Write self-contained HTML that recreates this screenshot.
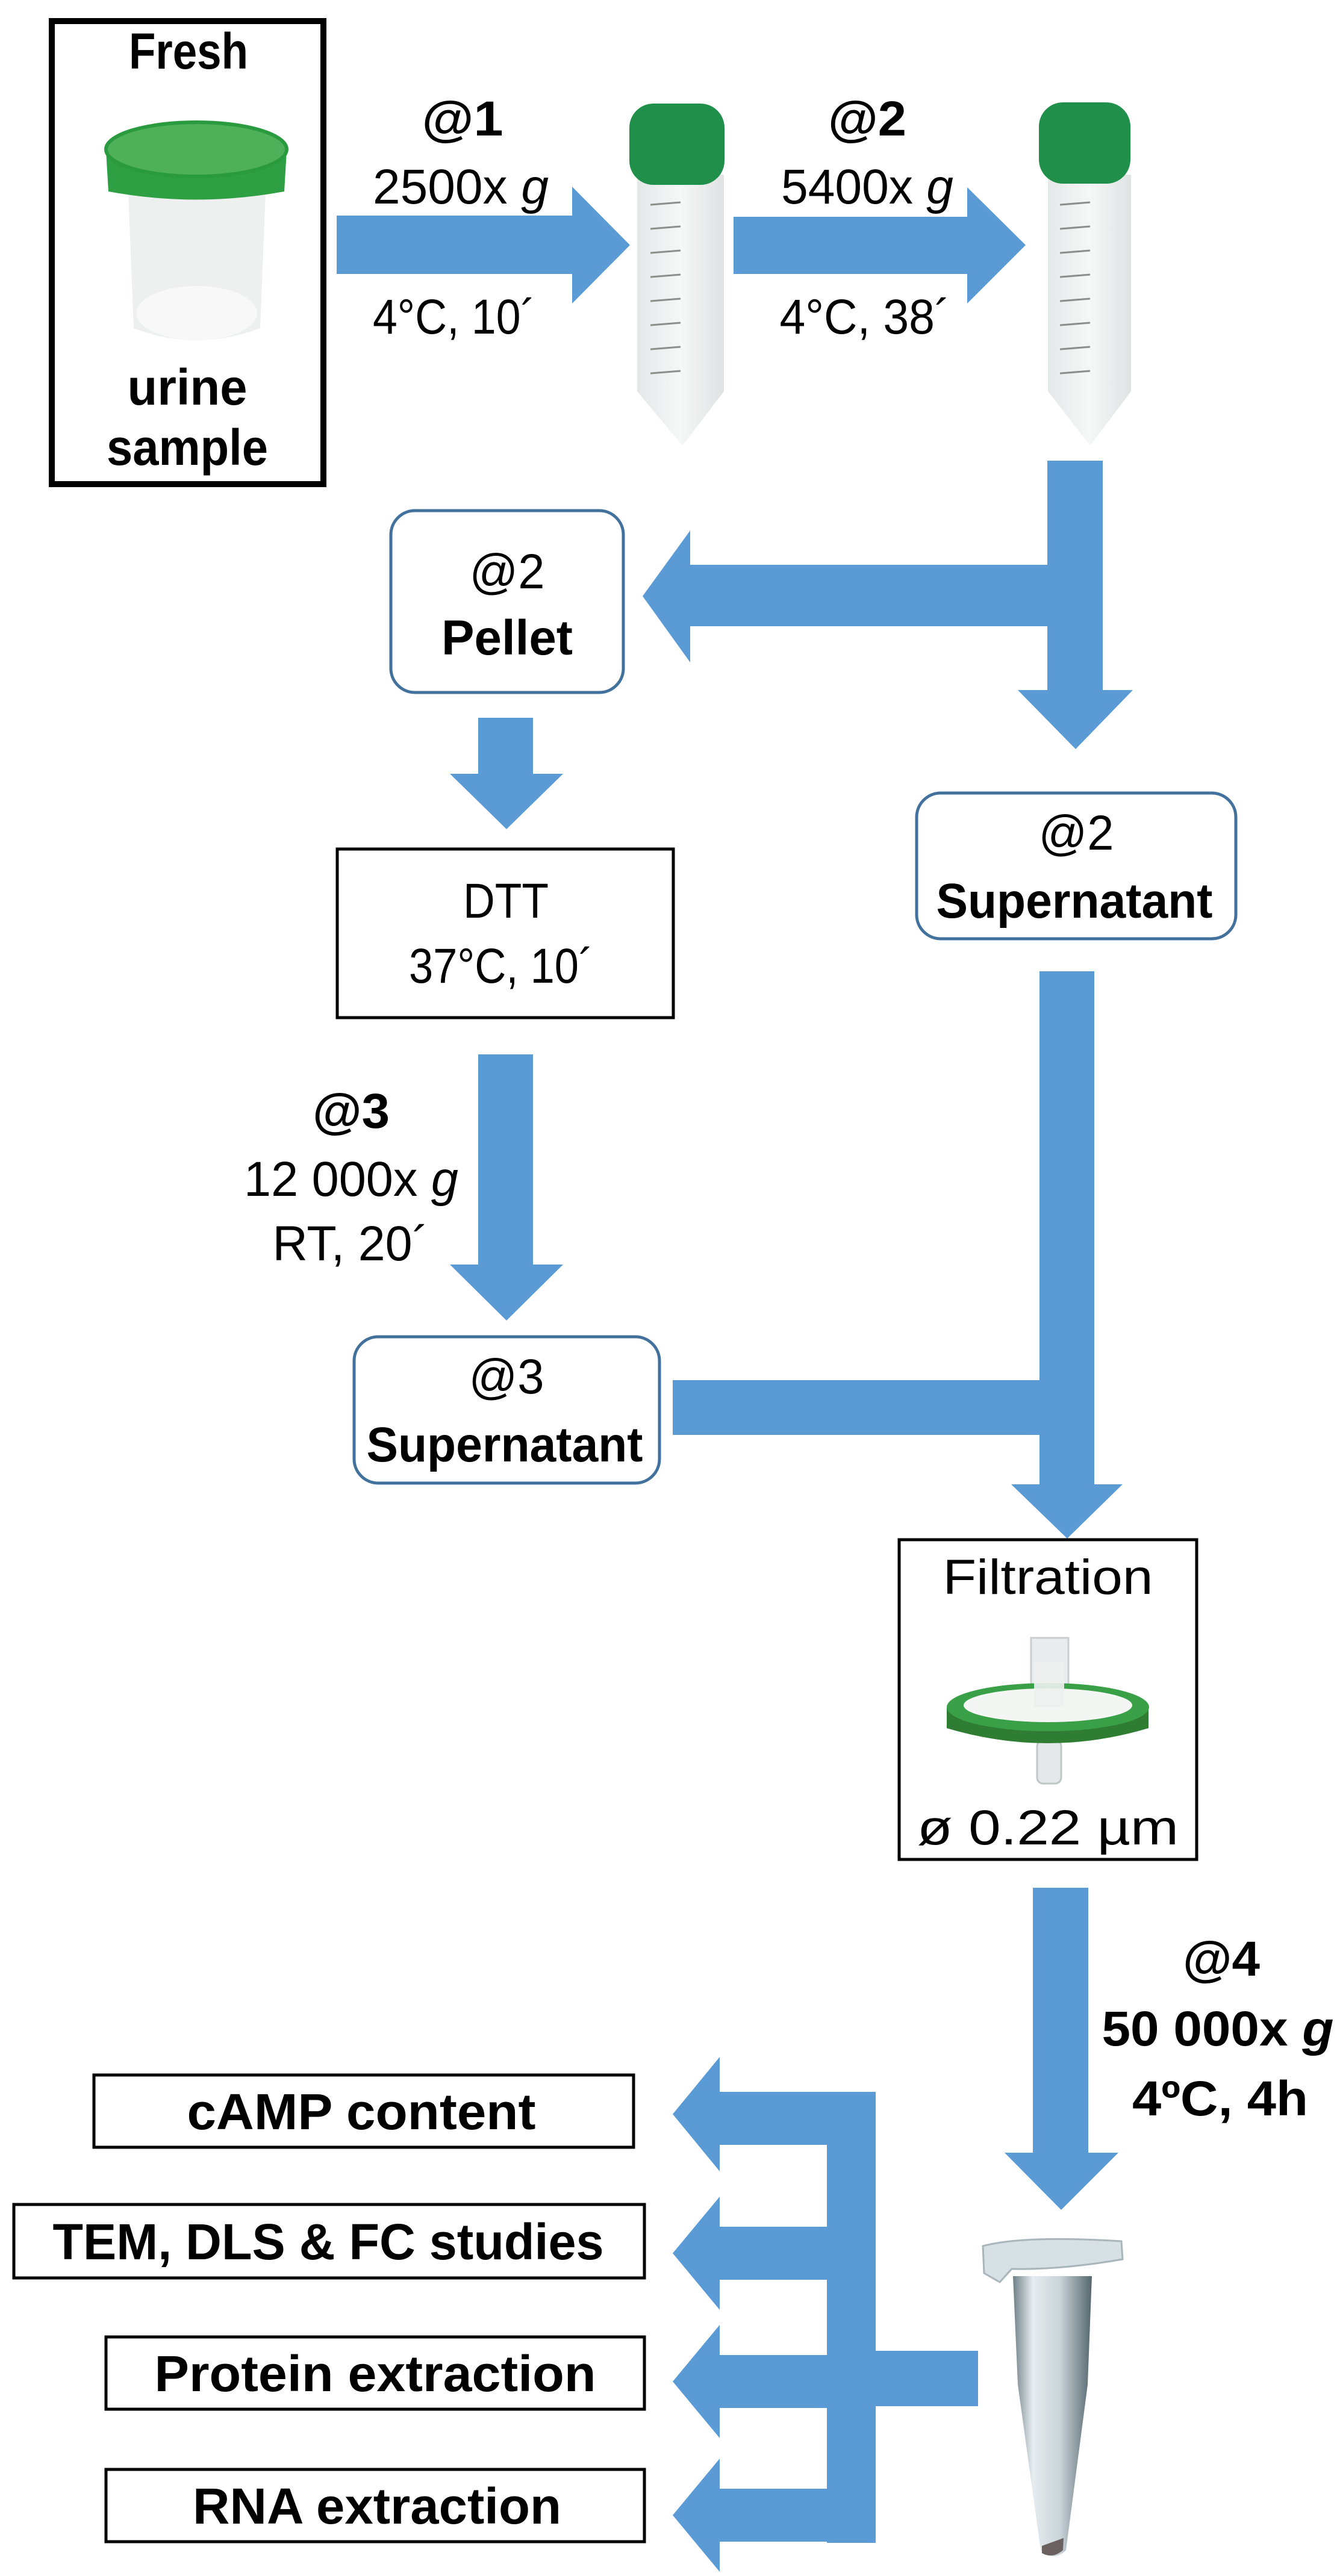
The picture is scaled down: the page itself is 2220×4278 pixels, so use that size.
<!DOCTYPE html>
<html><head><meta charset="utf-8"><style>
html,body{margin:0;padding:0;background:#fff;}
svg{display:block;}
text{font-family:"Liberation Sans",sans-serif;fill:#000;}
.b{font-weight:bold;}
</style></head><body>
<svg width="2220" height="4278" viewBox="0 0 2220 4278" xmlns="http://www.w3.org/2000/svg">
<defs>
<linearGradient id="tubeg" x1="0" x2="1"><stop offset="0" stop-color="#e4e8e8"/><stop offset="0.5" stop-color="#f6f7f7"/><stop offset="1" stop-color="#dfe3e3"/></linearGradient>
<linearGradient id="epg" x1="0" x2="1"><stop offset="0" stop-color="#6f8088"/><stop offset="0.25" stop-color="#e6ecef"/><stop offset="0.6" stop-color="#c9d4d9"/><stop offset="1" stop-color="#55666e"/></linearGradient>
</defs>
<g fill="#5b9bd5">
<polygon points="559,358 950,358 950,310 1046,407 950,504 950,455 559,455"/>
<polygon points="1218,360 1606,360 1606,311 1703,407 1606,504 1606,455 1218,455"/>
<rect x="1739" y="765" width="92" height="385"/>
<polygon points="1739,938 1146,938 1146,881 1067,990 1146,1100 1146,1040 1739,1040"/>
<polygon points="1690,1146 1881,1146 1786,1244"/>
<rect x="794" y="1192" width="91" height="95"/>
<polygon points="747,1285 935,1285 841,1377"/>
<rect x="794" y="1751" width="91" height="352"/>
<polygon points="747,2100 935,2100 841,2193"/>
<rect x="1726" y="1613" width="91" height="855"/>
<polygon points="1679,2465 1864,2465 1772,2555"/>
<rect x="1117" y="2292" width="612" height="91"/>
<rect x="1715" y="3135" width="92" height="443"/>
<polygon points="1668,3575 1857,3575 1762,3670"/>
<rect x="1373" y="3474" width="81" height="749"/>
<rect x="1454" y="3904" width="170" height="92"/>
<g>
<rect x="1192" y="3474" width="185" height="88"/><polygon points="1195,3416 1195,3606 1117,3511"/>
<rect x="1192" y="3698" width="185" height="88"/><polygon points="1195,3648 1195,3836 1117,3742"/>
<rect x="1192" y="3911" width="185" height="88"/><polygon points="1195,3861 1195,4049 1117,3955"/>
<rect x="1192" y="4133" width="185" height="88"/><polygon points="1195,4083 1195,4271 1117,4177"/>
</g>
</g>

<rect x="86" y="35" width="451" height="769" fill="none" stroke="#000" stroke-width="10"/>
<text x="313" y="114" font-size="84" class="b" text-anchor="middle" textLength="198" lengthAdjust="spacingAndGlyphs">Fresh</text>
<path d="M213,320 L441,320 L432,545 Q327,585 222,545 Z" fill="#eef0ef"/>
<ellipse cx="327" cy="520" rx="100" ry="45" fill="#f8f8f8"/>
<path d="M176,250 L476,250 L472,318 Q326,345 180,318 Z" fill="#2ea043"/>
<ellipse cx="326" cy="248" rx="150" ry="45" fill="#4fb05a" stroke="#2a9a3f" stroke-width="6"/>
<text x="311" y="672" font-size="84" class="b" text-anchor="middle" textLength="199" lengthAdjust="spacingAndGlyphs">urine</text>
<text x="311" y="772" font-size="84" class="b" text-anchor="middle" textLength="268" lengthAdjust="spacingAndGlyphs">sample</text>

<text x="768" y="225" font-size="82" class="b" text-anchor="middle" textLength="135" lengthAdjust="spacingAndGlyphs">@1</text>
<text x="765" y="338" font-size="82" text-anchor="middle" textLength="292" lengthAdjust="spacingAndGlyphs">2500x <tspan font-style="italic">g</tspan></text>
<text x="754" y="554" font-size="82" text-anchor="middle" textLength="270" lengthAdjust="spacingAndGlyphs">4°C, 10´</text>
<text x="1440" y="225" font-size="82" class="b" text-anchor="middle" textLength="130" lengthAdjust="spacingAndGlyphs">@2</text>
<text x="1440" y="338" font-size="82" text-anchor="middle" textLength="286" lengthAdjust="spacingAndGlyphs">5400x <tspan font-style="italic">g</tspan></text>
<text x="1436" y="554" font-size="82" text-anchor="middle" textLength="283" lengthAdjust="spacingAndGlyphs">4°C, 38´</text>

<path d="M1058,290 L1202,290 L1202,650 L1133,740 L1058,650 Z" fill="url(#tubeg)"/>
<g stroke="#8a8f8a" stroke-width="3">
<line x1="1080" y1="340" x2="1130" y2="336"/><line x1="1080" y1="380" x2="1130" y2="376"/><line x1="1080" y1="420" x2="1130" y2="416"/><line x1="1080" y1="460" x2="1130" y2="456"/><line x1="1080" y1="500" x2="1130" y2="496"/><line x1="1080" y1="540" x2="1130" y2="536"/><line x1="1080" y1="580" x2="1130" y2="576"/><line x1="1080" y1="620" x2="1130" y2="616"/>
</g>
<rect x="1045" y="172" width="158" height="135" rx="40" fill="#1f8f4a"/>
<path d="M1740,290 L1878,290 L1878,650 L1810,740 L1740,650 Z" fill="url(#tubeg)"/>
<g stroke="#8a8f8a" stroke-width="3">
<line x1="1760" y1="340" x2="1810" y2="336"/><line x1="1760" y1="380" x2="1810" y2="376"/><line x1="1760" y1="420" x2="1810" y2="416"/><line x1="1760" y1="460" x2="1810" y2="456"/><line x1="1760" y1="500" x2="1810" y2="496"/><line x1="1760" y1="540" x2="1810" y2="536"/><line x1="1760" y1="580" x2="1810" y2="576"/><line x1="1760" y1="620" x2="1810" y2="616"/>
</g>
<rect x="1725" y="170" width="152" height="135" rx="40" fill="#1f8f4a"/>

<rect x="649" y="848" width="386" height="302" rx="40" fill="#fff" stroke="#41719c" stroke-width="5"/>
<text x="842" y="977" font-size="82" text-anchor="middle" textLength="125" lengthAdjust="spacingAndGlyphs">@2</text>
<text x="842" y="1087" font-size="82" class="b" text-anchor="middle" textLength="218" lengthAdjust="spacingAndGlyphs">Pellet</text>

<rect x="1522" y="1317" width="530" height="242" rx="40" fill="#fff" stroke="#41719c" stroke-width="5"/>
<text x="1787" y="1411" font-size="82" text-anchor="middle" textLength="125" lengthAdjust="spacingAndGlyphs">@2</text>
<text x="1784" y="1524" font-size="82" class="b" text-anchor="middle" textLength="459" lengthAdjust="spacingAndGlyphs">Supernatant</text>

<rect x="560" y="1410" width="558" height="280" fill="#fff" stroke="#000" stroke-width="5"/>
<text x="840" y="1524" font-size="82" text-anchor="middle" textLength="142" lengthAdjust="spacingAndGlyphs">DTT</text>
<text x="832" y="1632" font-size="82" text-anchor="middle" textLength="306" lengthAdjust="spacingAndGlyphs">37°C, 10´</text>

<text x="583" y="1873" font-size="82" class="b" text-anchor="middle" textLength="128" lengthAdjust="spacingAndGlyphs">@3</text>
<text x="583" y="1986" font-size="82" text-anchor="middle" textLength="356" lengthAdjust="spacingAndGlyphs">12 000x <tspan font-style="italic">g</tspan></text>
<text x="582" y="2093" font-size="82" text-anchor="middle" textLength="259" lengthAdjust="spacingAndGlyphs">RT, 20´</text>

<rect x="588" y="2220" width="507" height="243" rx="40" fill="#fff" stroke="#41719c" stroke-width="5"/>
<text x="841" y="2314" font-size="82" text-anchor="middle" textLength="125" lengthAdjust="spacingAndGlyphs">@3</text>
<text x="838" y="2427" font-size="82" class="b" text-anchor="middle" textLength="459" lengthAdjust="spacingAndGlyphs">Supernatant</text>

<rect x="1493" y="2557" width="494" height="531" fill="#fff" stroke="#000" stroke-width="5"/>
<text x="1740" y="2647" font-size="82" text-anchor="middle" textLength="349" lengthAdjust="spacingAndGlyphs">Filtration</text>
<rect x="1712" y="2720" width="62" height="80" fill="#e8ecec" stroke="#c9cfcf" stroke-width="3"/>
<rect x="1722" y="2890" width="40" height="72" rx="10" fill="#e4e8e8" stroke="#c0c6c6" stroke-width="3"/>
<path d="M1572,2835 L1572,2870 Q1740,2920 1907,2870 L1907,2835 Z" fill="#2e7d32"/>
<ellipse cx="1740" cy="2835" rx="168" ry="40" fill="#3aa048"/>
<ellipse cx="1740" cy="2832" rx="140" ry="28" fill="#f4f6f4"/>
<rect x="1717" y="2760" width="50" height="75" fill="#eef1f1" opacity="0.9"/>
<text x="1740" y="3063" font-size="82" text-anchor="middle" textLength="434" lengthAdjust="spacingAndGlyphs">ø  0.22 µm</text>

<text x="2028" y="3281" font-size="82" class="b" text-anchor="middle" textLength="128" lengthAdjust="spacingAndGlyphs">@4</text>
<text x="2022" y="3397" font-size="82" class="b" text-anchor="middle" textLength="385" lengthAdjust="spacingAndGlyphs">50 000x <tspan font-style="italic">g</tspan></text>
<text x="2026" y="3513" font-size="82" class="b" text-anchor="middle" textLength="292" lengthAdjust="spacingAndGlyphs">4ºC, 4h</text>

<path d="M1682,3780 L1813,3780 L1806,3960 L1770,4235 Q1750,4255 1728,4235 L1690,3960 Z" fill="url(#epg)"/>
<path d="M1730,4228 L1766,4215 L1765,4235 Q1748,4250 1730,4240 Z" fill="#6b6060"/>
<path d="M1632,3730 Q1700,3712 1862,3722 L1864,3752 Q1760,3770 1680,3768 L1660,3790 L1634,3775 Z" fill="#d7e0e4" stroke="#a8b6bc" stroke-width="3"/>

<g fill="#fff" stroke="#000" stroke-width="5">
<rect x="156" y="3446" width="896" height="120"/>
<rect x="23" y="3661" width="1047" height="122"/>
<rect x="176" y="3881" width="894" height="120"/>
<rect x="176" y="4101" width="894" height="120"/>
</g>
<text x="600" y="3536" font-size="84" class="b" text-anchor="middle" textLength="579" lengthAdjust="spacingAndGlyphs">cAMP content</text>
<text x="545" y="3752" font-size="84" class="b" text-anchor="middle" textLength="915" lengthAdjust="spacingAndGlyphs">TEM, DLS &amp; FC studies</text>
<text x="623" y="3971" font-size="84" class="b" text-anchor="middle" textLength="733" lengthAdjust="spacingAndGlyphs">Protein extraction</text>
<text x="626" y="4191" font-size="84" class="b" text-anchor="middle" textLength="612" lengthAdjust="spacingAndGlyphs">RNA extraction</text>
</svg>
</body></html>
